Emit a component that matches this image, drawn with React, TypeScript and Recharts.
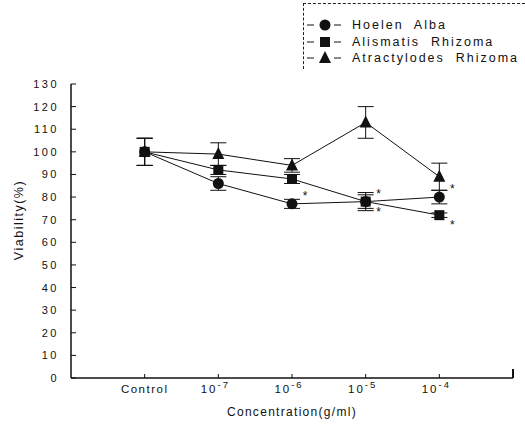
import { LineChart, Line, XAxis, YAxis, ErrorBar, LabelList, ReferenceLine } from "recharts";

const categories = ["Control", "-7", "-6", "-5", "-4"];
const hoelen = [100, 86, 77, 78, 80];
const hoelenErr = [6, 3, 2, 3, 3];
const hoelenSig = [false, false, true, true, true];
const alisma = [100, 92, 88, 78, 72];
const alismaErr = [6, 2, 2, 4, 1];
const alismaSig = [false, false, false, true, true];
const atract = [100, 99, 94, 113, 89];
const atractErr = [6, 5, 3, 7, 6];
const yTicks = [0, 10, 20, 30, 40, 50, 60, 70, 80, 90, 100, 110, 120, 130];

const data = categories.map((c, i) => ({
  x: i + 1,
  label: c,
  hoelen: hoelen[i],
  hoelenErr: hoelenErr[i],
  hoelenSig: hoelenSig[i] ? "*" : "",
  alisma: alisma[i],
  alismaErr: alismaErr[i],
  alismaSig: alismaSig[i] ? "*" : "",
  atract: atract[i],
  atractErr: atractErr[i],
}));

const FONT = "'Liberation Sans', Arial, sans-serif";
const INK = "#111";

const CircleDot = (p: any) => <circle cx={p.cx} cy={p.cy} r={5.5} fill={INK} />;
const SquareDot = (p: any) => <rect x={p.cx - 5} y={p.cy - 5} width={10} height={10} fill={INK} />;
const TriDot = (p: any) => (
  <polygon points={`${p.cx},${p.cy - 7} ${p.cx - 6},${p.cy + 5} ${p.cx + 6},${p.cy + 5}`} fill={INK} />
);

const YTick = (p: any) => (
  <g>
    <line x1={p.x} x2={p.x + 5} y1={p.y} y2={p.y} stroke={INK} />
    <text x={p.x - 12} y={p.y + 4} textAnchor="end" fontSize={11} letterSpacing={2.5} fill={INK} fontFamily={FONT}>
      {p.payload.value}
    </text>
  </g>
);

const XTick = (p: any) => {
  const lab = categories[p.payload.value - 1];
  return (
    <g>
      <line x1={p.x} x2={p.x} y1={p.y - 4} y2={p.y} stroke={INK} />
      {lab === "Control" ? (
        <text x={p.x} y={p.y + 15} textAnchor="middle" fontSize={11.5} letterSpacing={1.5} fill={INK} fontFamily={FONT}>
          Control
        </text>
      ) : (
        <text x={p.x - 3} y={p.y + 15} textAnchor="middle" fontSize={11.5} letterSpacing={2} fill={INK} fontFamily={FONT}>
          10
          <tspan dy={-5} fontSize={9.5}>{lab}</tspan>
        </text>
      )}
    </g>
  );
};

const Star = (dy: number) => (p: any) =>
  p.value ? (
    <text x={p.x + 13} y={p.y + dy} fontSize={12} fill={INK} stroke="none" textAnchor="middle" fontFamily={FONT}>
      *
    </text>
  ) : null;

const YLabel = (p: any) => {
  const cx = p.viewBox.x + 19;
  const cy = p.viewBox.y + p.viewBox.height / 2 - 11;
  return (
    <text
      x={cx}
      y={cy}
      transform={`rotate(-90 ${cx} ${cy})`}
      textAnchor="middle"
      dominantBaseline="central"
      fontSize={12.5}
      letterSpacing={1.5}
      fill={INK}
      fontFamily={FONT}
    >
      Viability(%)
    </text>
  );
};

const legendItems = [
  { name: "Hoelen  Alba", shape: "circle" },
  { name: "Alismatis  Rhizoma", shape: "square" },
  { name: "Atractylodes  Rhizoma", shape: "tri" },
];

const LegendBox = () => (
  <div
    style={{
      position: "absolute",
      left: 303,
      top: 3,
      borderTop: "1px dashed #222",
      borderLeft: "1px dashed #222",
      width: 222,
      height: 66,
      paddingTop: 13,
      boxSizing: "border-box",
      fontFamily: FONT,
      fontSize: 12.5,
      letterSpacing: 2,
      color: INK,
    }}
  >
    {legendItems.map((it) => (
      <div key={it.name} style={{ display: "flex", alignItems: "center", height: 16.5 }}>
        <svg width={48} height={14}>
          <line x1={3} x2={10} y1={7} y2={7} stroke={INK} />
          <line x1={30} x2={37} y1={7} y2={7} stroke={INK} />
          {it.shape === "circle" && <circle cx={21} cy={7} r={5.5} fill={INK} />}
          {it.shape === "square" && <rect x={16} y={2} width={10} height={10} fill={INK} />}
          {it.shape === "tri" && <polygon points="21,0 15,12 27,12" fill={INK} />}
        </svg>
        <span style={{ whiteSpace: "pre" }}>{it.name}</span>
      </div>
    ))}
  </div>
);

export default function App() {
  return (
    <div style={{ position: "absolute", left: 0, top: 0, width: 525, height: 424, background: "#fff" }}>
      <LineChart width={525} height={424} data={data} margin={{ top: 84, right: 12, bottom: 0, left: 0 }}>
        <XAxis
          dataKey="x"
          type="number"
          domain={[0, 6]}
          ticks={[1, 2, 3, 4, 5]}
          height={46}
          tickSize={0}
          tickMargin={0}
          tick={<XTick />}
          axisLine={{ stroke: INK, strokeWidth: 1.5 }}
          tickLine={false}
          label={{ value: "Concentration(g/ml)", position: "insideBottom", offset: 8, fontSize: 12, fill: INK, fontFamily: FONT, letterSpacing: 1.3 }}
        />
        <YAxis
          domain={[0, 130]}
          ticks={yTicks}
          width={71}
          tickSize={0}
          tickMargin={0}
          tick={<YTick />}
          axisLine={{ stroke: INK, strokeWidth: 1.5 }}
          tickLine={false}
          interval={0}
          label={<YLabel />}
        />
        <ReferenceLine segment={[{ x: 6, y: 0 }, { x: 6, y: 4 }]} stroke={INK} strokeWidth={2} />
        <Line dataKey="atract" stroke={INK} strokeWidth={1} dot={<TriDot />} isAnimationActive={false}>
          <ErrorBar dataKey="atractErr" width={8} stroke={INK} strokeWidth={1} />
        </Line>
        <Line dataKey="alisma" stroke={INK} strokeWidth={1} dot={<SquareDot />} isAnimationActive={false}>
          <ErrorBar dataKey="alismaErr" width={8} stroke={INK} strokeWidth={1} />
          <LabelList dataKey="alismaSig" content={Star(14)} />
        </Line>
        <Line dataKey="hoelen" stroke={INK} strokeWidth={1} dot={<CircleDot />} isAnimationActive={false}>
          <ErrorBar dataKey="hoelenErr" width={8} stroke={INK} strokeWidth={1} />
          <LabelList dataKey="hoelenSig" content={Star(-4)} />
        </Line>
      </LineChart>
      <LegendBox />
    </div>
  );
}
